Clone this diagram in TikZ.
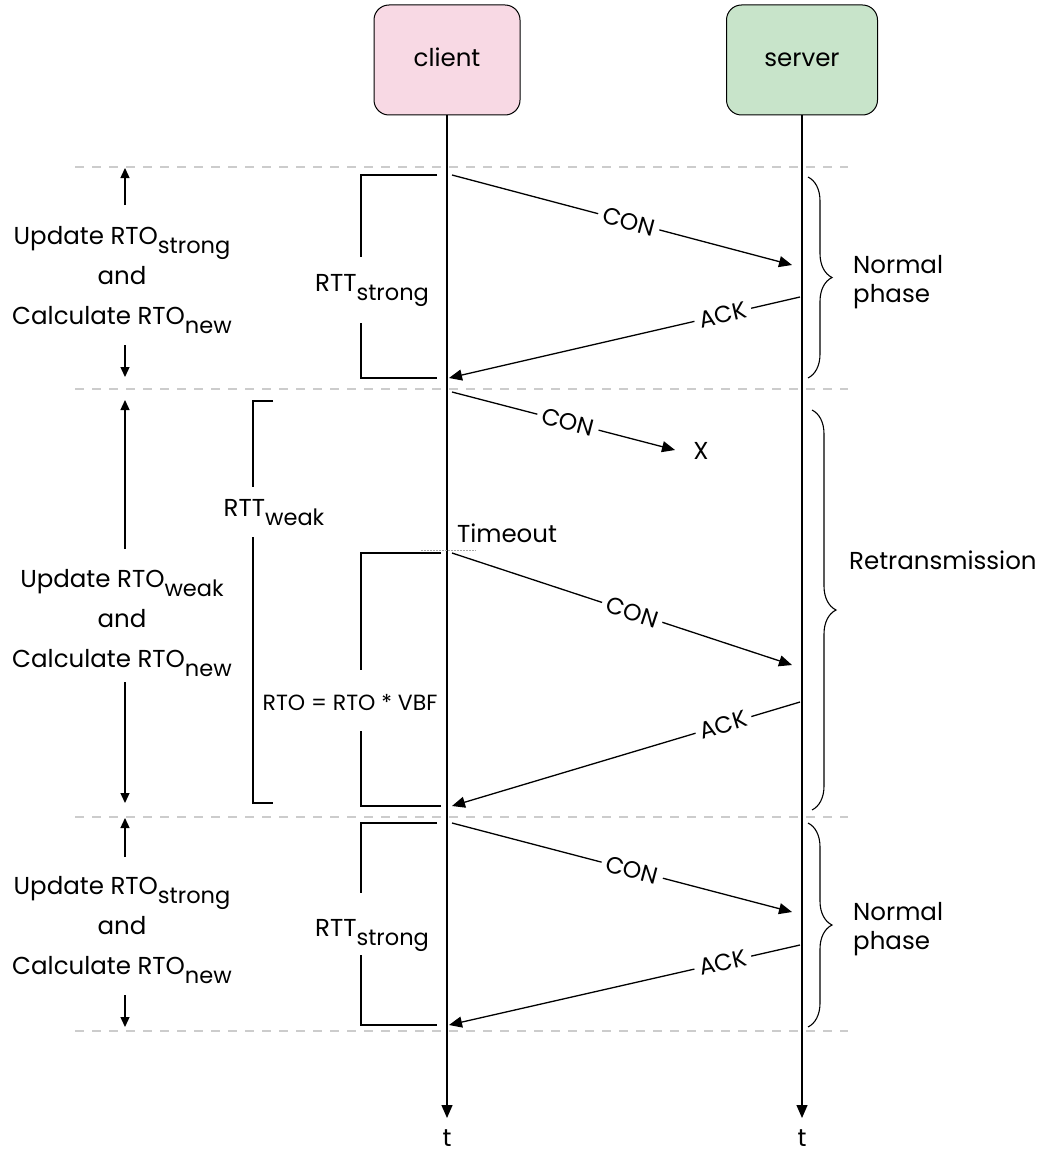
\documentclass[tikz,border=0pt]{standalone}
\usepackage{fontspec}
\setmainfont{Poppins}
\usetikzlibrary{arrows.meta,decorations.pathreplacing}
\definecolor{clientfill}{HTML}{F8D9E4}
\definecolor{serverfill}{HTML}{C8E4CA}
\definecolor{sepgray}{HTML}{CCCCCC}
\newcommand\lowsub[1]{\raisebox{-9pt}{\fontsize{22.5}{22.5}\selectfont #1}}
\begin{document}
\begin{tikzpicture}[x=1pt,y=-1pt,
  lbl/.style={font=\fontsize{24.5}{28}\selectfont, inner sep=0pt},
  side/.style={font=\fontsize{24.5}{40}\selectfont, align=center, inner sep=0pt},
  msg/.style={line width=1.3pt, -{Triangle[length=13pt,width=11pt]}},
  small/.style={line width=1.3pt, -{Triangle[length=10pt,width=9pt]}},
  msglbl/.style={sloped, fill=white, inner sep=5pt, font=\fontsize{23.5}{24}\selectfont},
  sepline/.style={sepgray, line width=1.3pt, dash pattern=on 9pt off 8pt},
  brk/.style={line width=1.3pt},
  brc/.style={decorate, decoration={brace, amplitude=24pt}, line width=1.1pt},
  actor/.style={draw, line width=1pt, rounded corners=15pt, minimum width=146pt, minimum height=110pt, text height=16pt, text depth=2pt, font=\fontsize{24.5}{28}\selectfont}]
\useasboundingbox (0,0) rectangle (1040,1153);

% actors
\node[actor, fill=clientfill] (client) at (447,60) {client};
\node[actor, fill=serverfill, minimum width=151pt] (server) at (802,60) {server};
\coordinate (cend) at (447,1118);
\coordinate (send) at (802,1118);
\draw[msg] (client.south) -- (cend);
\draw[msg] (server.south) -- (send);
\node[lbl] (tc) at (447,1138) {t};
\node[lbl] (ts) at (802,1138) {t};

% separators
\coordinate (s1a) at (75,167);  \coordinate (s1b) at (848,167);
\coordinate (s2a) at (75,389);  \coordinate (s2b) at (848,389);
\coordinate (s3a) at (75,817);  \coordinate (s3b) at (848,817);
\coordinate (s4a) at (75,1031); \coordinate (s4b) at (848,1031);
\draw[sepline] (s1a) -- (s1b);
\draw[sepline] (s2a) -- (s2b);
\draw[sepline] (s3a) -- (s3b);
\draw[sepline] (s4a) -- (s4b);

% ---------- phase 1 ----------
\coordinate (m1s) at (452,175); \coordinate (m1e) at (792,265);
\coordinate (k1s) at (800,297); \coordinate (k1e) at (449,378);
\draw[msg] (m1s) -- node[msglbl, pos=0.52] (con1) {CON} (m1e);
\draw[msg] (k1s) -- node[msglbl, pos=0.22] (ack1) {ACK} (k1e);
\draw[brk] (437,175) -- (361,175) -- (361,257);
\draw[brk] (361,323) -- (361,378) -- (437,378);
\node[lbl] (rtt1) at (372,290) {RTT\lowsub{strong}};
\draw[brc] (808,177) -- (808,378);
\node[lbl, align=left, anchor=west, font=\fontsize{24.5}{29}\selectfont] (np1) at (853,282) {Normal\\phase};
\node[side] (upd1) at (122,280) {Update RTO\lowsub{strong}\\and\\Calculate RTO\lowsub{new}};
\coordinate (u1t) at (125,205); \coordinate (u1h) at (125,168);
\coordinate (d1t) at (125,345); \coordinate (d1h) at (125,377);
\draw[small] (u1t) -- (u1h);
\draw[small] (d1t) -- (d1h);

% ---------- phase 2 ----------
\coordinate (m2s) at (452,392); \coordinate (m2e) at (675,450);
\draw[msg] (m2s) -- node[msglbl, pos=0.52] (con2) {CON} (m2e);
\node[lbl] (xmark) at (701,451) {X};
\draw[brk] (273,401) -- (253,401) -- (253,487);
\draw[brk] (253,537) -- (253,803) -- (273,803);
\node[lbl] (rtt2) at (274,513) {RTT\lowsub{weak}};
\node[lbl] (tout) at (507,533) {Timeout};
\coordinate (to1) at (421,550); \coordinate (to2) at (476,550);
\draw[gray!70, line width=0.8pt, dash pattern=on 2pt off 1pt] (to1) -- (to2);
\draw[brk] (441,553) -- (361,553) -- (361,670);
\draw[brk] (361,731) -- (361,806) -- (441,806);
\node[lbl, font=\fontsize{22}{26}\selectfont] (rto) at (350,702) {RTO = RTO * VBF};
\coordinate (m3s) at (452,553); \coordinate (m3e) at (792,665);
\coordinate (k3s) at (800,702); \coordinate (k3e) at (452,806);
\draw[msg] (m3s) -- node[msglbl, pos=0.53] (con3) {CON} (m3e);
\draw[msg] (k3s) -- node[msglbl, pos=0.22] (ack3) {ACK} (k3e);
\draw[brc] (812,410) -- (812,810);
\node[lbl, anchor=west] (retx) at (849,560) {Retransmission};
\node[side] (upd2) at (122,623) {Update RTO\lowsub{weak}\\and\\Calculate RTO\lowsub{new}};
\coordinate (u2t) at (125,549); \coordinate (u2h) at (125,400);
\coordinate (d2t) at (125,682); \coordinate (d2h) at (125,803);
\draw[small] (u2t) -- (u2h);
\draw[small] (d2t) -- (d2h);

% ---------- phase 3 ----------
\coordinate (m4s) at (452,823); \coordinate (m4e) at (792,912);
\coordinate (k4s) at (800,945); \coordinate (k4e) at (449,1025);
\draw[msg] (m4s) -- node[msglbl, pos=0.53] (con4) {CON} (m4e);
\draw[msg] (k4s) -- node[msglbl, pos=0.22] (ack4) {ACK} (k4e);
\draw[brk] (437,823) -- (361,823) -- (361,893);
\draw[brk] (361,955) -- (361,1025) -- (437,1025);
\node[lbl] (rtt3) at (372,935) {RTT\lowsub{strong}};
\draw[brc] (808,823) -- (808,1027);
\node[lbl, align=left, anchor=west, font=\fontsize{24.5}{29}\selectfont] (np3) at (853,929) {Normal\\phase};
\node[side] (upd3) at (122,930) {Update RTO\lowsub{strong}\\and\\Calculate RTO\lowsub{new}};
\coordinate (u3t) at (125,857); \coordinate (u3h) at (125,818);
\coordinate (d3t) at (125,995); \coordinate (d3h) at (125,1027);
\draw[small] (u3t) -- (u3h);
\draw[small] (d3t) -- (d3h);
\end{tikzpicture}
\end{document}
